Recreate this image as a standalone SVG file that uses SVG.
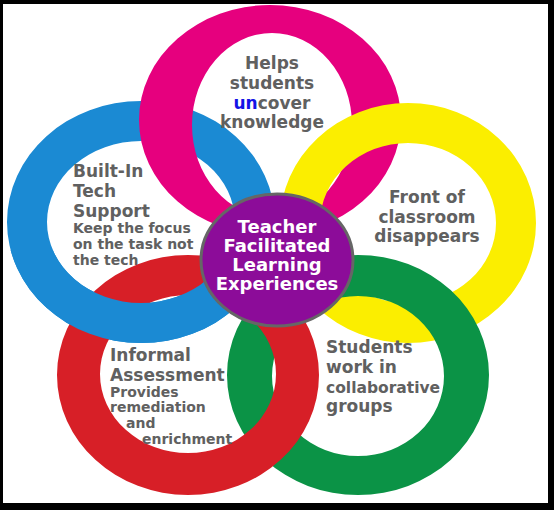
<svg xmlns="http://www.w3.org/2000/svg" xmlns:xlink="http://www.w3.org/1999/xlink" width="554" height="510" viewBox="0 0 554 510">
  <style>
    .ring { fill-rule: evenodd; }
    .lbl { font-family: "DejaVu Sans", Verdana, sans-serif; font-weight: bold; fill: #606060; font-size: 17px; }
    .sm { font-size: 14px; }
    .mid { text-anchor: middle; }
    .ctr { font-family: "DejaVu Sans", Verdana, sans-serif; font-weight: bold; fill: #ffffff; font-size: 18px; text-anchor: middle; }
  </style>
  <defs>
    <path id="blue-ring" class="ring" d="M7,222 a134,121 0 1,0 268,0 a134,121 0 1,0 -268,0Z M47,222 a94,81 0 1,0 188,0 a94,81 0 1,0 -188,0Z"/>
    <clipPath id="blue-over-red">
      <rect x="0" y="250" width="232" height="120"/>
    </clipPath>
  </defs>

  <!-- frame -->
  <rect x="0" y="0" width="554" height="510" fill="#000"/>
  <rect x="3" y="4" width="545" height="499" fill="#fff"/>

  <g id="node-blue">
    <use xlink:href="#blue-ring" href="#blue-ring" fill="#1b8ad3"/>
    <text class="lbl" x="73" y="177">Built-In</text>
    <text class="lbl" x="73" y="197">Tech</text>
    <text class="lbl" x="73" y="217">Support</text>
    <text class="lbl sm" x="73" y="233">Keep the focus</text>
    <text class="lbl sm" x="73" y="249">on the task not</text>
    <text class="lbl sm" x="73" y="265">the tech</text>
  </g>

  <g id="node-pink">
    <path class="ring" fill="#e6007e" d="M139,120 a131,115 0 1,0 262,0 a131,115 0 1,0 -262,0Z M192,125 a80,92 0 1,0 160,0 a80,92 0 1,0 -160,0Z"/>
    <text class="lbl mid" x="272" y="69">Helps</text>
    <text class="lbl mid" x="272" y="89">students</text>
    <text class="lbl mid" x="272" y="109"><tspan fill="#1414e6">un</tspan>cover</text>
    <text class="lbl mid" x="272" y="128">knowledge</text>
  </g>

  <g id="node-yellow">
    <path class="ring" fill="#fbee00" d="M280,223 a128,120 0 1,0 256,0 a128,120 0 1,0 -256,0Z M320,223 a88,80 0 1,0 176,0 a88,80 0 1,0 -176,0Z"/>
    <text class="lbl mid" x="427" y="203">Front of</text>
    <text class="lbl mid" x="427" y="223">classroom</text>
    <text class="lbl mid" x="427" y="242">disappears</text>
  </g>

  <g id="node-green">
    <path class="ring" fill="#0b9346" d="M227,375 a131,120 0 1,0 262,0 a131,120 0 1,0 -262,0Z M272,376 a86,80 0 1,0 172,0 a86,80 0 1,0 -172,0Z"/>
    <text class="lbl" x="326" y="353">Students</text>
    <text class="lbl" x="326" y="373">work in</text>
    <text class="lbl" x="326" y="393" style="font-size:15.5px">collaborative</text>
    <text class="lbl" x="326" y="412">groups</text>
  </g>

  <g id="node-red">
    <path class="ring" fill="#d71f27" d="M57,375 a131,120 0 1,0 262,0 a131,120 0 1,0 -262,0Z M100,374 a88,79 0 1,0 176,0 a88,79 0 1,0 -176,0Z"/>
    <text class="lbl" x="110" y="361">Informal</text>
    <text class="lbl" x="110" y="381">Assessment</text>
    <text class="lbl sm" x="110" y="397">Provides</text>
    <text class="lbl sm" x="110" y="412">remediation</text>
    <text class="lbl sm" x="126" y="428">and</text>
    <text class="lbl sm" x="142" y="444">enrichment</text>
  </g>

  <g id="overlap-blue-over-red" clip-path="url(#blue-over-red)">
    <use xlink:href="#blue-ring" href="#blue-ring" fill="#1b8ad3"/>
  </g>

  <g id="node-center">
    <ellipse cx="277" cy="260" rx="76" ry="66" fill="#8c0c99" stroke="#666" stroke-width="3"/>
    <text class="ctr" x="277" y="233">Teacher</text>
    <text class="ctr" x="277" y="252">Facilitated</text>
    <text class="ctr" x="277" y="271">Learning</text>
    <text class="ctr" x="277" y="290">Experiences</text>
  </g>
</svg>
